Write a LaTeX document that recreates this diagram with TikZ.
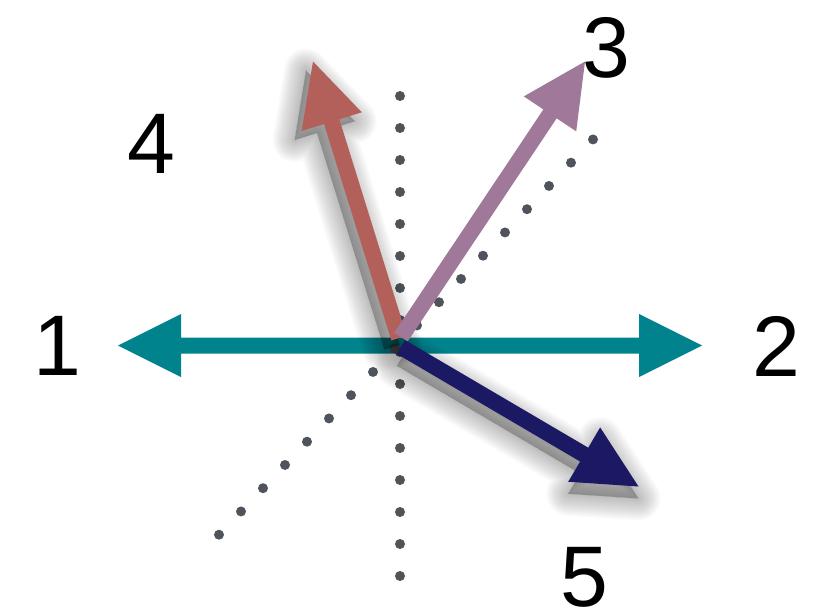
\documentclass[tikz,border=0pt]{standalone}
\usepackage{fontspec}
\setmainfont{Liberation Sans}
\usetikzlibrary{calc}
\definecolor{cteal}{HTML}{00838D}
\definecolor{cred}{HTML}{B3605A}
\definecolor{cmauve}{HTML}{A0799A}
\definecolor{cnavy}{HTML}{1B1963}
\definecolor{cdot}{HTML}{4F545C}
\newcommand\defarr[3]{%
  \coordinate (#1s) at (#2);
  \coordinate (#1t) at (#3);
  \coordinate (#1b) at ($(#1t)!63pt!(#1s)$);
  \coordinate (#1s1) at ($(#1s)!8pt!90:(#1t)$);
  \coordinate (#1s2) at ($(#1s)!8pt!-90:(#1t)$);
  \coordinate (#1b1) at ($(#1b)!8pt!90:(#1t)$);
  \coordinate (#1b2) at ($(#1b)!8pt!-90:(#1t)$);
  \coordinate (#1h1) at ($(#1b)!31.5pt!90:(#1t)$);
  \coordinate (#1h2) at ($(#1b)!31.5pt!-90:(#1t)$);
}
\newcommand\arrfill[2]{%
  \fill[#2] (#1s1) -- (#1b1) -- (#1h1) -- (#1t) -- (#1h2) -- (#1b2) -- (#1s2) -- cycle;}
\newcommand\arrshadow[3]{%
  \begin{scope}[transform canvas={shift={(#2,#3)}}]
  \foreach \w in {44,41,...,2} {%
    \filldraw[black, opacity=0.018, line width=\w pt, line join=round]
      (#1s1) -- (#1b1) -- (#1h1) -- (#1t) -- (#1h2) -- (#1b2) -- (#1s2) -- cycle;}
  \end{scope}}
\tikzset{lbl/.style={inner sep=0pt, anchor=center, font=\fontsize{86}{86}\selectfont}}
\begin{document}
\begin{tikzpicture}[x=1pt,y=-1pt]
\useasboundingbox (0,0) rectangle (821,615);
% teal double arrow
\defarr{tl}{400,345.5}{118,345.5}
\defarr{tr}{400,345.5}{702,345.5}
\arrfill{tl}{cteal}
\arrfill{tr}{cteal}
% dotted guides
\foreach \k in {0,...,15} \fill[cdot] (400,96+32*\k) circle (5pt);
\foreach \k in {0,...,17} \fill[cdot] (219+22*\k,534.7-23.25*\k) circle (5pt);
% arrows
\defarr{rd}{399,338}{313,61.5}
\defarr{mv}{401,337}{585,61.5}
\defarr{nv}{401,347}{638.5,486.5}
\arrshadow{rd}{-7}{9}
\arrshadow{nv}{0}{12}
\arrfill{rd}{cred}
\arrfill{mv}{cmauve}
\arrfill{nv}{cnavy}
% labels
\node[lbl] (n1) at (57.5,346) {1};
\node[lbl] (n2) at (776,346) {2};
\node[lbl] (n3) at (606,47.5) {3};
\node[lbl] (n4) at (151,144) {4};
\node[lbl] (n5) at (584.5,577.5) {5};
\end{tikzpicture}
\end{document}
